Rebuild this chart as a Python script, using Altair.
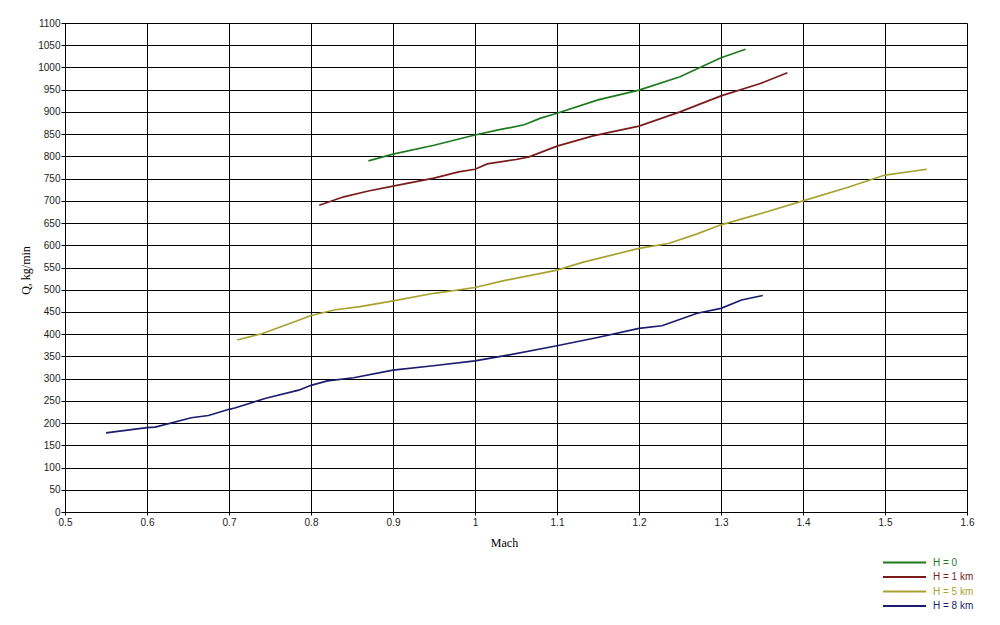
import altair as alt
import pandas as pd

# ---- data ----
series_names = ["H = 0", "H = 1 km", "H = 5 km", "H = 8 km"]
series_colors = ["#1f7a1f", "#7a1c1c", "#a8a230", "#1c1c6e"]

h0_mach = [0.87, 0.90, 0.95, 1.00, 1.03, 1.06, 1.08, 1.10, 1.15, 1.20, 1.25, 1.30, 1.33]
h0_q = [790, 805, 825, 848, 860, 871, 886, 897, 927, 949, 979, 1022, 1041]

h1_mach = [0.81, 0.84, 0.87, 0.90, 0.95, 0.98, 1.00, 1.015, 1.05, 1.066, 1.10, 1.144,
           1.20, 1.25, 1.30, 1.348, 1.381]
h1_q = [690, 709, 722, 733, 751, 765, 771, 783, 793, 799, 823, 846, 868, 900, 936, 964, 988]

h5_mach = [0.71, 0.74, 0.78, 0.80, 0.83, 0.86, 0.90, 0.95, 1.00, 1.034, 1.10, 1.132,
           1.20, 1.236, 1.27, 1.30, 1.357, 1.40, 1.454, 1.50, 1.551]
h5_q = [387, 401, 428, 442, 455, 462, 475, 492, 505, 520, 544, 562, 593, 604, 625, 646,
        676, 700, 730, 758, 771]

h8_mach = [0.55, 0.60, 0.61, 0.654, 0.675, 0.70, 0.707, 0.745, 0.785, 0.80, 0.82, 0.852,
           0.90, 0.949, 1.00, 1.04, 1.10, 1.148, 1.20, 1.228, 1.271, 1.30, 1.325, 1.351]
h8_q = [178, 190, 191, 212, 217, 231, 234, 256, 274, 285, 295, 302, 319, 329, 340, 353,
        374, 392, 413, 419, 447, 458, 477, 487]

x_ticks = [0.5, 0.6, 0.7, 0.8, 0.9, 1.0, 1.1, 1.2, 1.3, 1.4, 1.5, 1.6]
y_ticks = [0, 50, 100, 150, 200, 250, 300, 350, 400, 450, 500, 550, 600, 650, 700, 750,
           800, 850, 900, 950, 1000, 1050, 1100]

rows = []
for name, ms, qs in zip(series_names,
                        [h0_mach, h1_mach, h5_mach, h8_mach],
                        [h0_q, h1_q, h5_q, h8_q]):
    for i, (m, q) in enumerate(zip(ms, qs)):
        rows.append({"series": name, "mach": m, "q": q, "order": i})
df = pd.DataFrame(rows)

legend = alt.Legend(
    title=None,
    orient="none",
    legendX=833,
    legendY=533,
    symbolType="M-4,0H4",
    symbolSize=116,
    symbolStrokeWidth=1.8,
    labelFont="Liberation Sans",
    labelFontSize=10,
    labelOffset=22,
    labelColor={"expr": "scale('color', datum.value)"},
    rowPadding=2.5,
    padding=0,
)

chart = alt.Chart(df).mark_line(strokeWidth=1.7).encode(
    x=alt.X("mach:Q",
            scale=alt.Scale(domain=[0.5, 1.6], nice=False, zero=False),
            axis=alt.Axis(values=x_ticks, format=".1~f", title="Mach",
                          titleX=439, titleY=34, titleBaseline="alphabetic",
                          titleAlign="center", labelFlush=False, labelPadding=2,
                          tickSize=3)),
    y=alt.Y("q:Q",
            scale=alt.Scale(domain=[0, 1100], nice=False),
            axis=alt.Axis(values=y_ticks, format="d", title="Q, kg/min",
                          titleAngle=270, titleX=-36, titleY=247,
                          titleBaseline="alphabetic", titleAlign="center",
                          labelPadding=1, tickSize=4)),
    color=alt.Color("series:N",
                    scale=alt.Scale(domain=series_names, range=series_colors),
                    legend=legend),
    order="order:Q",
).properties(
    width=902,
    height=489,
    autosize=alt.AutoSizeParams(type="none"),
    padding={"left": 57, "top": 15, "right": 25, "bottom": 102},
    background="white",
).configure_axis(
    grid=True,
    gridColor="#000000",
    gridOpacity=1,
    gridWidth=1,
    domainColor="#000000",
    tickColor="#000000",
    labelFont="Liberation Sans",
    labelFontSize=10,
    labelColor="#222222",
    titleFont="Liberation Serif",
    titleFontSize=12,
    titleFontWeight="normal",
    titleColor="#000000",
).configure_view(strokeWidth=0)

chart.save("out.html", embed_options={"renderer": "svg", "actions": False})
